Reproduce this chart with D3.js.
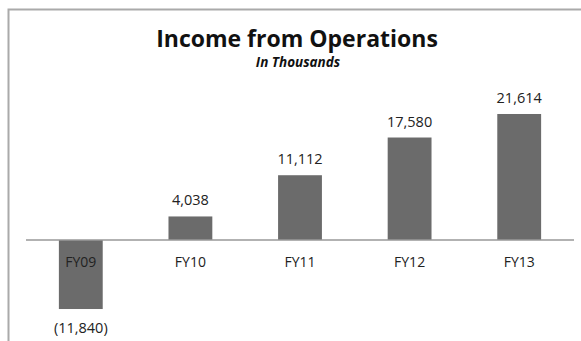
<!DOCTYPE html>
<html>
<head>
<meta charset="utf-8">
<script src="https://cdn.jsdelivr.net/npm/d3@7"></script>
<style>
    body { margin: 0; background: #fff; }
    svg { display: block; font-family: 'Open Sans', sans-serif; }
</style>
</head>
<body>
<div id="chart"></div>
<script>
const years = ['FY09', 'FY10', 'FY11', 'FY12', 'FY13'];
const income = [-11840, 4038, 11112, 17580, 21614];
const valueLabels = ['(11,840)', '4,038', '11,112', '17,580', '21,614'];

const width = 581, height = 341;

const svg = d3.select('#chart').append('svg')
    .attr('width', width)
    .attr('height', height);

// frame
svg.append('rect')
    .attr('x', 8.5).attr('y', 9.5)
    .attr('width', 600).attr('height', 400)
    .style('fill', 'white')
    .style('stroke', '#aaa')
    .style('stroke-width', 2);

svg.append('text')
    .attr('x', 297).attr('y', 47)
    .attr('text-anchor', 'middle')
    .style('font-size', '23px')
    .style('font-weight', 'bold')
    .style('fill', '#111')
    .text('Income from Operations');

svg.append('text')
    .attr('x', 298).attr('y', 67)
    .attr('text-anchor', 'middle')
    .style('font-size', '13.5px')
    .style('font-weight', 'bold')
    .style('font-style', 'italic')
    .style('fill', '#111')
    .text('In Thousands');

const x = d3.scaleBand()
    .domain(years)
    .range([26, 574])
    .paddingInner(0.6)
    .paddingOuter(0.3);

const y = d3.scaleLinear()
    .domain([-15000, 25000])
    .range([240 + 15 * 5.83, 240 - 25 * 5.83]);

svg.selectAll('rect.bar')
    .data(income)
    .enter()
    .append('rect')
        .attr('class', 'bar')
        .attr('x', (d, i) => x(years[i]))
        .attr('width', x.bandwidth())
        .attr('y', d => y(Math.max(0, d)))
        .attr('height', d => Math.abs(y(d) - y(0)))
        .style('fill', '#6b6b6b');

// zero line
svg.append('line')
    .attr('x1', 26).attr('x2', 574)
    .attr('y1', y(0)).attr('y2', y(0))
    .style('stroke', '#999')
    .style('stroke-width', 1.5);

const axisX = d3.axisBottom(x).tickSize(0).tickPadding(17);
svg.append('g')
    .attr('transform', 'translate(0, ' + y(0) + ')')
    .call(axisX)
    .call(g => g.select('.domain').remove())
    .selectAll('text')
        .style('font-family', "'Open Sans', sans-serif")
        .style('font-size', '14px')
        .style('fill', '#222');

svg.selectAll('text.val')
    .data(income)
    .enter()
    .append('text')
        .attr('class', 'val')
        .attr('x', (d, i) => x(years[i]) + x.bandwidth() / 2)
        .attr('y', d => d >= 0 ? y(d) - 11 : y(d) + 24)
        .attr('text-anchor', 'middle')
        .style('font-size', '14.5px')
        .style('fill', '#222')
        .text((d, i) => valueLabels[i]);
</script>
</body>
</html>
